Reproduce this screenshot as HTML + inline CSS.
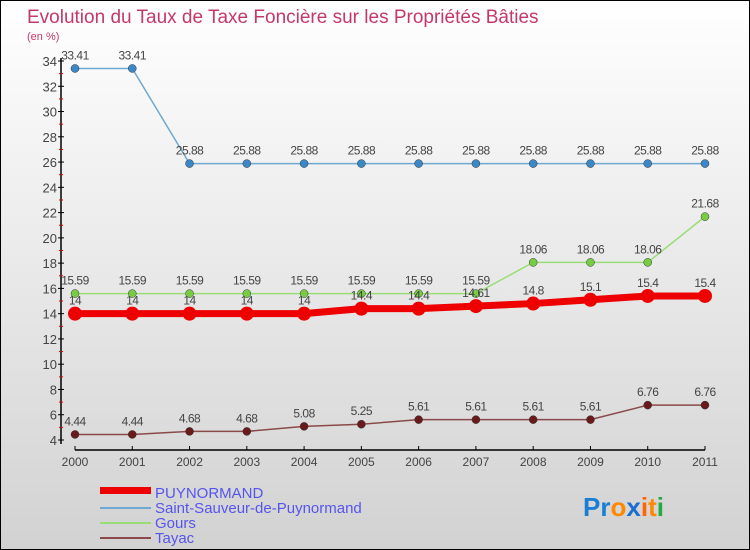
<!DOCTYPE html>
<html><head><meta charset="utf-8"><style>
body{margin:0;width:750px;height:550px;overflow:hidden;font-family:"Liberation Sans",sans-serif}
svg{display:block}
</style></head><body>
<svg width="750" height="550" xmlns="http://www.w3.org/2000/svg">
<defs><linearGradient id="bg" x1="0" y1="0" x2="0" y2="1"><stop offset="0" stop-color="#ffffff"/><stop offset="1" stop-color="#d2d2d2"/></linearGradient></defs>
<rect x="0.5" y="0.5" width="749" height="549" fill="url(#bg)" stroke="#000"/>
<text x="27" y="23" font-size="19" fill="#c4386a">Evolution du Taux de Taxe Foncière sur les Propriétés Bâties</text>
<text x="27" y="40" font-size="11" fill="#c4386a">(en %)</text>
<g id="axes"></g><g id="series"></g>
<g>
<rect x="100" y="487" width="51" height="7" fill="#ee0000"/>
<text x="155" y="498" font-size="15" fill="#5555ee">PUYNORMAND</text>
<line x1="100" y1="508" x2="151" y2="508" stroke="#6fa8d0" stroke-width="2"/>
<text x="155" y="513" font-size="15" fill="#5555ee">Saint-Sauveur-de-Puynormand</text>
<line x1="100" y1="523" x2="151" y2="523" stroke="#99dd77" stroke-width="2"/>
<text x="155" y="528" font-size="15" fill="#5555ee">Gours</text>
<line x1="100" y1="538" x2="151" y2="538" stroke="#8a4a4a" stroke-width="2"/>
<text x="155" y="543" font-size="15" fill="#5555ee">Tayac</text>
</g>
<g font-size="26" font-weight="bold">
<text x="583" y="516"><tspan fill="#1a7fd4">Pr</tspan><tspan fill="#ff8800">o</tspan><tspan fill="#1a6fd4">x</tspan><tspan fill="#ff6600">i</tspan><tspan fill="#ff8800">t</tspan><tspan fill="#22aa44">i</tspan></text>
</g>
</svg>
<script>
const years=["2000","2001","2002","2003","2004","2005","2006","2007","2008","2009","2010","2011"];
const puynormand=[14,14,14,14,14,14.4,14.4,14.6,14.8,15.1,15.4,15.4];
const puynormandLabels=["14","14","14","14","14","14.4","14.4","14.61","14.8","15.1","15.4","15.4"];
const saintSauveur=[33.41,33.41,25.88,25.88,25.88,25.88,25.88,25.88,25.88,25.88,25.88,25.88];
const gours=[15.59,15.59,15.59,15.59,15.59,15.59,15.59,15.59,18.06,18.06,18.06,21.68];
const tayac=[4.44,4.44,4.68,4.68,5.08,5.25,5.61,5.61,5.61,5.61,6.76,6.76];
const yTicks=[4,6,8,10,12,14,16,18,20,22,24,26,28,30,32,34];
const NS="http://www.w3.org/2000/svg";
const x=i=>75+i*(630/11);
const y=v=>440-(v-4)*(379/30);
function mk(tag,attrs,parent){const e=document.createElementNS(NS,tag);for(const k in attrs)e.setAttribute(k,attrs[k]);parent.appendChild(e);return e;}
const ax=document.getElementById('axes');
let l=mk('line',{x1:61,y1:y(34)-3,x2:61,y2:444,stroke:'#000','stroke-width':1.5},ax);


l=mk('line',{x1:75,y1:450,x2:705,y2:450,stroke:'#000','stroke-width':1.5},ax);


yTicks.forEach(v=>{
 mk('line',{x1:58,y1:y(v),x2:64,y2:y(v),stroke:'#000'},ax);
 if(v<34) mk('line',{x1:59,y1:y(v+1),x2:63,y2:y(v+1),stroke:'#e00000'},ax);
 const t=mk('text',{x:57,y:y(v)+5,'font-size':13,fill:'#444','text-anchor':'end'},ax);
 t.textContent=v;
 
 
});
years.forEach((yr,i)=>{
 mk('line',{x1:x(i),y1:446,x2:x(i),y2:450,stroke:'#000'},ax);
 const t=mk('text',{x:x(i),y:466,'font-size':12,fill:'#444','text-anchor':'middle'},ax);
 t.textContent=yr;
 
 
});
const sg=document.getElementById('series');
function draw(vals,labels,color,dot,lw,r,name){
 const g=mk('g',{},sg);
 
 
 const p=mk('polyline',{points:vals.map((v,i)=>x(i)+','+y(v)).join(' '),fill:'none',stroke:color,'stroke-width':lw,'stroke-linejoin':'round'},g);
 
 
 vals.forEach((v,i)=>{
  const c=mk('circle',{cx:x(i),cy:y(v),r:r,fill:dot,stroke:dot==='#ee0000'?'none':'#333','stroke-width':0.5},g);
  
  
  const t=mk('text',{x:x(i),y:y(v)-9,'font-size':12,fill:'#444','text-anchor':'middle','letter-spacing':'-0.5'},g);
  t.textContent=labels?labels[i]:String(v);
  
  
 });
}
draw(tayac,null,'#8a4a4a','#6a1a1a',1.5,4,'tayac');
draw(gours,null,'#99dd77','#77cc44',1.5,4,'gours');
draw(saintSauveur,null,'#6fa8d0','#3a88c8',1.5,4,'saint-sauveur');
draw(puynormand,puynormandLabels,'#ee0000','#ee0000',7,7,'puynormand');
</script>
</body></html>
